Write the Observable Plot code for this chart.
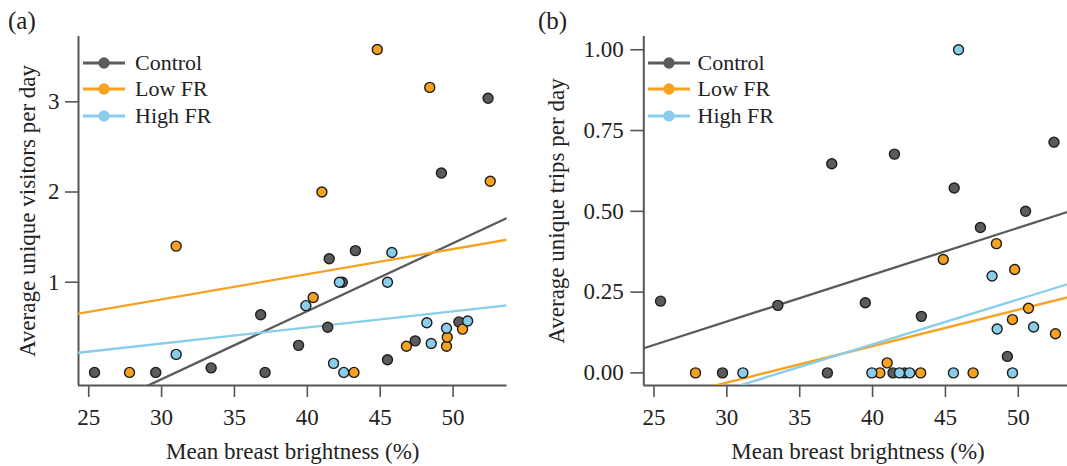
<!DOCTYPE html>
<html>
<head>
<meta charset="utf-8">
<script src="https://cdn.jsdelivr.net/npm/d3@7"></script>
<script src="https://cdn.jsdelivr.net/npm/@observablehq/plot@0.6"></script>
<style>
  html, body { margin: 0; padding: 0; background: #fff; overflow: hidden; }
  #wrap { position: relative; width: 1067px; height: 466px; overflow: hidden; font-family: "Liberation Serif", serif; color: #222; }
  .panel { position: absolute; top: 0; }
  .panel svg { max-width: none !important; }
  .tag { position: absolute; font-size: 25px; line-height: 28px; }
  .leg { position: absolute; font-size: 22px; line-height: 26px; white-space: nowrap; }
  .sw { position: absolute; }
</style>
</head>
<body>
<div id="wrap"></div>
<script>
// ---------- data ----------
const groups = ["Control", "Low FR", "High FR"];
const groupColors = ["#5b5b5b", "#f7a21e", "#88cdeb"];
const xTicks = [25, 30, 35, 40, 45, 50];

// Panel (a): average unique visitors per day
const visCtrlX = [25.4, 29.6, 33.4, 36.8, 37.1, 39.4, 41.4, 41.5, 42.4, 43.3, 45.5, 47.4, 49.2, 50.4, 52.4];
const visCtrlY = [0, 0, 0.05, 0.64, 0, 0.30, 0.50, 1.26, 1.00, 1.35, 0.14, 0.35, 2.21, 0.56, 3.04];
const visLowX = [27.8, 31.0, 40.4, 41.0, 43.2, 44.8, 46.8, 48.4, 49.55, 49.6, 50.65, 52.55];
const visLowY = [0, 1.40, 0.83, 2.00, 0, 3.58, 0.29, 3.16, 0.29, 0.39, 0.48, 2.12];
const visHighX = [31.0, 39.9, 41.8, 42.2, 42.5, 45.5, 45.8, 48.2, 48.5, 49.55, 51.0];
const visHighY = [0.20, 0.74, 0.10, 1.00, 0, 1.00, 1.33, 0.55, 0.32, 0.49, 0.57];
const visFitIntercept = [-2.337, -0.027, -0.216];
const visFitSlope = [0.0754, 0.02789, 0.01786];
const visYTicks = [1, 2, 3];

// Panel (b): average unique trips per day
const tripCtrlX = [25.45, 29.7, 33.5, 36.9, 37.2, 39.5, 41.4, 41.5, 42.2, 43.35, 45.6, 47.4, 49.25, 50.5, 52.45];
const tripCtrlY = [0.222, 0, 0.209, 0, 0.647, 0.217, 0, 0.677, 0, 0.175, 0.572, 0.45, 0.051, 0.50, 0.714];
const tripLowX = [27.85, 40.5, 41.0, 43.3, 44.85, 46.9, 48.5, 49.6, 49.75, 50.7, 52.55];
const tripLowY = [0, 0, 0.031, 0, 0.351, 0, 0.40, 0.165, 0.32, 0.20, 0.121];
const tripHighX = [31.1, 39.95, 41.85, 42.55, 45.55, 45.9, 48.2, 48.55, 49.6, 51.05];
const tripHighY = [0, 0, 0, 0, 0, 1.0, 0.30, 0.136, 0, 0.142];
const tripFitIntercept = [-0.276, -0.368, -0.469];
const tripFitSlope = [0.0145, 0.01127, 0.01393];
const tripYTicks = [0, 0.25, 0.5, 0.75, 1.0];

// ---------- build ----------
const xDomain = [24.3, 53.7];

function series(xs, ys, g) { return xs.map((x, i) => ({x, y: ys[i], g})); }

function panel({pts, intercepts, slopes, yDomain, yTicks, yFormat, yLabel, width, marginLeft, marginRight, labelOffsetY, tickPaddingY}) {
  const fits = [];
  groups.forEach((g, i) => {
    xDomain.forEach(x => fits.push({x, y: intercepts[i] + slopes[i] * x, g}));
  });
  const colorOf = g => groupColors[groups.indexOf(g)];
  return Plot.plot({
    width, height: 466,
    marginLeft, marginRight, marginTop: 36, marginBottom: 81,
    style: {fontFamily: "Liberation Serif, serif", fontSize: "23px", color: "#222", background: "transparent", overflow: "visible"},
    x: {domain: xDomain},
    y: {domain: yDomain},
    marks: [
      Plot.axisX({ticks: xTicks, tickSize: 12, tickPadding: 11, stroke: "#555", strokeWidth: 1.6,
        label: "Mean breast brightness (%)", labelAnchor: "center", labelOffset: 73, labelArrow: "none", fontSize: 23}),
      Plot.axisY({ticks: yTicks, tickFormat: yFormat, tickSize: 13, tickPadding: tickPaddingY, stroke: "#555", strokeWidth: 1.6,
        label: yLabel, labelAnchor: "center", labelOffset: labelOffsetY, labelArrow: "none", fontSize: 23}),
      Plot.ruleX([xDomain[0]], {stroke: "#555", strokeWidth: 2}),
      Plot.ruleY([yDomain[0]], {stroke: "#555", strokeWidth: 2}),
      Plot.line(fits, {x: "x", y: "y", z: "g", stroke: d => colorOf(d.g), strokeWidth: 2.3, clip: true}),
      ...groups.map((g, i) => Plot.dot(pts.filter(d => d.g === g), {x: "x", y: "y", r: 5, fill: groupColors[i], stroke: "#1e1e1e", strokeWidth: 1.4}))
    ]
  });
}

const wrap = document.getElementById("wrap");

const visPts = [...series(visCtrlX, visCtrlY, "Control"), ...series(visLowX, visLowY, "Low FR"), ...series(visHighX, visHighY, "High FR")];
const tripPts = [...series(tripCtrlX, tripCtrlY, "Control"), ...series(tripLowX, tripLowY, "Low FR"), ...series(tripHighX, tripHighY, "High FR")];

const pa = panel({pts: visPts, intercepts: visFitIntercept, slopes: visFitSlope, yDomain: [-0.145, 3.724], yTicks: visYTicks,
  yFormat: d3.format("d"), yLabel: "Average unique visitors per day", width: 530, marginLeft: 78, marginRight: 23.5, labelOffsetY: 60, tickPaddingY: 6});
const pb = panel({pts: tripPts, intercepts: tripFitIntercept, slopes: tripFitSlope, yDomain: [-0.039, 1.041], yTicks: tripYTicks,
  yFormat: d3.format(".2f"), yLabel: "Average unique trips per day", width: 545, marginLeft: 113.3, marginRight: 3.3, labelOffsetY: 96.5, tickPaddingY: 7});

const da = document.createElement("div"); da.className = "panel"; da.style.left = "0px"; da.appendChild(pa); wrap.appendChild(da);
const db = document.createElement("div"); db.className = "panel"; db.style.left = "530px"; db.appendChild(pb); wrap.appendChild(db);

// panel tags
[["(a)", 8], ["(b)", 538]].forEach(([t, left]) => {
  const el = document.createElement("div"); el.className = "tag"; el.textContent = t;
  el.style.left = left + "px"; el.style.top = "7px"; wrap.appendChild(el);
});

// legends
const rowY = [62.7, 89.3, 116];
[[83, 135], [648, 697.5]].forEach(([swLeft, txtLeft]) => {
  groups.forEach((g, i) => {
    const ns = "http://www.w3.org/2000/svg";
    const svg = document.createElementNS(ns, "svg");
    svg.setAttribute("width", 43); svg.setAttribute("height", 14);
    svg.setAttribute("class", "sw");
    svg.style.left = swLeft + "px"; svg.style.top = (rowY[i] - 7) + "px";
    const ln = document.createElementNS(ns, "line");
    ln.setAttribute("x1", 0); ln.setAttribute("x2", 42); ln.setAttribute("y1", 7); ln.setAttribute("y2", 7);
    ln.setAttribute("stroke", groupColors[i]); ln.setAttribute("stroke-width", 3);
    const c = document.createElementNS(ns, "circle");
    c.setAttribute("cx", 21); c.setAttribute("cy", 7); c.setAttribute("r", 5.7); c.setAttribute("fill", groupColors[i]);
    svg.appendChild(ln); svg.appendChild(c); wrap.appendChild(svg);
    const t = document.createElement("div"); t.className = "leg"; t.textContent = g;
    t.style.left = txtLeft + "px"; t.style.top = (rowY[i] - 13) + "px"; wrap.appendChild(t);
  });
});
</script>
</body>
</html>
